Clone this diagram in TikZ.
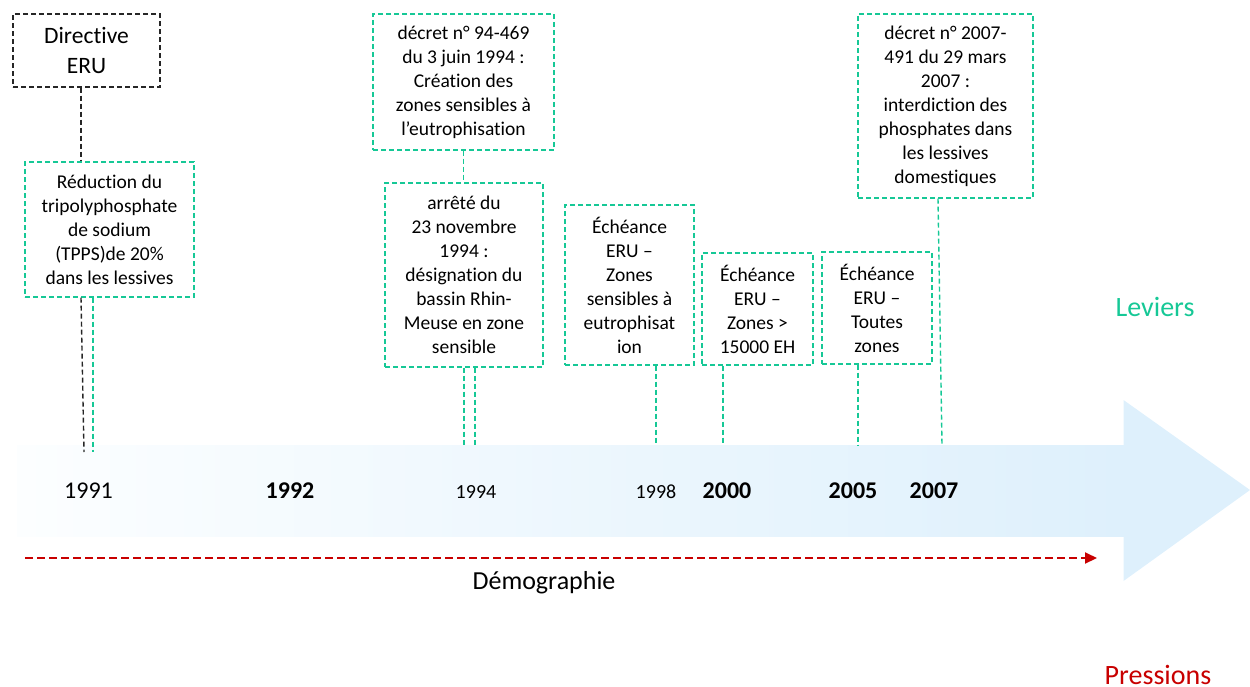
\documentclass[tikz,border=0pt]{standalone}
\usepackage{fontspec}
\setmainfont{Carlito}[Ligatures={NoCommon,NoRare,NoContextual},Contextuals={NoAlternate}]
\usetikzlibrary{arrows.meta}
\definecolor{leviergreen}{RGB}{22,200,150}
\definecolor{pressred}{RGB}{200,0,0}
\definecolor{flowblue}{RGB}{222,240,252}
\definecolor{flowpale}{RGB}{252,254,255}
% "ti" typed as two separate letters
\newcommand{\tiltr}{t\kern0pt i}
\begin{document}
\begin{tikzpicture}[x=1pt,y=-1pt,
  boxtext/.style={align=center, inner sep=0pt, font=\fontsize{19.5}{24}\selectfont},
  evbox/.style={boxtext, draw=leviergreen, dash pattern=on 5pt off 3pt, line width=1.3pt},
  dirbox/.style={align=center, inner sep=0pt, draw=black!85, dash pattern=on 5pt off 3pt, line width=1.3pt, font=\fontsize{23.5}{30}\selectfont},
  greenlink/.style={draw=leviergreen, dash pattern=on 5pt off 3pt, line width=1.4pt},
  blacklink/.style={draw=black!85, dash pattern=on 5pt off 3pt, line width=1.4pt},
  yearbig/.style={font=\fontsize{24}{28}\selectfont, inner sep=0pt},
  yearbold/.style={font=\fontsize{24}{28}\selectfont\bfseries, inner sep=0pt},
  yearsmall/.style={font=\fontsize{20}{24}\selectfont, inner sep=0pt},
  poptrend/.style={draw=pressred, dash pattern=on 8pt off 4pt, line width=2pt, -{Triangle[length=12pt,width=11pt]}},
]
\useasboundingbox (0,0) rectangle (1250,686);

% timeline arrow: shaded body and solid head
\shade[left color=flowpale, right color=flowblue] (17,445) rectangle (1124,536);
\fill[flowblue] (1123.5,400) -- (1250,490) -- (1123.5,581) -- cycle;

% event boxes
\node[dirbox, minimum width=147pt, minimum height=73pt] (dir) at (86.5,50.5) {Direc\tiltr ve\\ERU};
\node[evbox, minimum width=169pt, minimum height=135pt] (tpps) at (109.5,229.5)
  {Réduc\tiltr on du\\tripolyphosphate\\de sodium\\(TPPS)de 20\%\\dans les lessives};
\node[evbox, minimum width=181pt, minimum height=136pt] (dec94) at (463.5,82)
  {décret n° 94-469\\du 3 juin 1994 :\\Créa\tiltr on des\\zones sensibles à\\l’eutrophisa\tiltr on};
\node[evbox, minimum width=158pt, minimum height=184pt] (arr94) at (464,275)
  {arrêté du\\23 novembre\\1994 :\\désigna\tiltr on du\\bassin Rhin-\\Meuse en zone\\sensible};
\node[evbox, minimum width=129pt, minimum height=160pt] (eru98) at (629.5,285)
  {Échéance\\ERU –\\Zones\\sensibles à\\eutrophisat\\ion};
\node[evbox, minimum width=111pt, minimum height=112pt] (eru00) at (757.5,309)
  {Échéance\\ERU –\\Zones >\\15000 EH};
\node[evbox, minimum width=110pt, minimum height=112pt] (eru05) at (877,308)
  {Échéance\\ERU –\\Toutes\\zones};
\node[evbox, minimum width=175pt, minimum height=184pt] (dec07) at (945.5,106)
  {décret n° 2007-\\491 du 29 mars\\2007 :\\interdic\tiltr on des\\phosphates dans\\les lessives\\domes\tiltr ques};

% years on the timeline
\node[yearbig]   (y91) at (88.5,491) {1991};
\node[yearbold]  (y92) at (290,491) {1992};
\node[yearsmall] (y94) at (476,492) {1994};
\node[yearsmall] (y98) at (656,492) {1998};
\node[yearbold]  (y00) at (727,491) {2000};
\node[yearbold]  (y05) at (853,491) {2005};
\node[yearbold]  (y07) at (934,491) {2007};

% ends of the links on the timeline
\coordinate (t91k) at (84,452);
\coordinate (t91g) at (93,452);
\coordinate (t94a) at (464,445);
\coordinate (t94b) at (475,445);
\coordinate (t98) at (656,445);
\coordinate (t00) at (723,445);
\coordinate (t05) at (858,445);
\coordinate (t07) at (942,445);

% links
\draw[blacklink] ([xshift=-5.5pt]dir.south) -- ([xshift=-5.5pt]dir.south |- tpps.north);
\draw[blacklink] ([xshift=-28.5pt]tpps.south) -- (t91k);
\draw[greenlink] ([xshift=-16.5pt]tpps.south) -- (t91g);
\draw[greenlink] (dec94.south) -- (dec94.south |- arr94.north);
\draw[greenlink] (arr94.south) -- (t94a);
\draw[greenlink] ([xshift=11pt]arr94.south) -- (t94b);
\draw[greenlink] ([xshift=26.5pt]eru98.south) -- (t98);
\draw[greenlink] ([xshift=-34.5pt]eru00.south) -- (t00);
\draw[greenlink] ([xshift=-19pt]eru05.south) -- (t05);
\draw[greenlink] ([xshift=-7.5pt]dec07.south) -- (t07);

% demography trend
\coordinate (dem0) at (25,558);
\coordinate (dem1) at (1097,558);
\draw[poptrend] (dem0) -- (dem1);
\node[font=\fontsize{26}{30}\selectfont, inner sep=0pt] (demo) at (544,583) {Démographie};

% side captions
\node[font=\fontsize{28}{32}\selectfont, text=leviergreen, inner sep=0pt] (lev) at (1155,307) {Leviers};
\node[font=\fontsize{28}{32}\selectfont, text=pressred, inner sep=0pt, anchor=base] (pre) at (1158,684) {Pressions};
\end{tikzpicture}
\end{document}
